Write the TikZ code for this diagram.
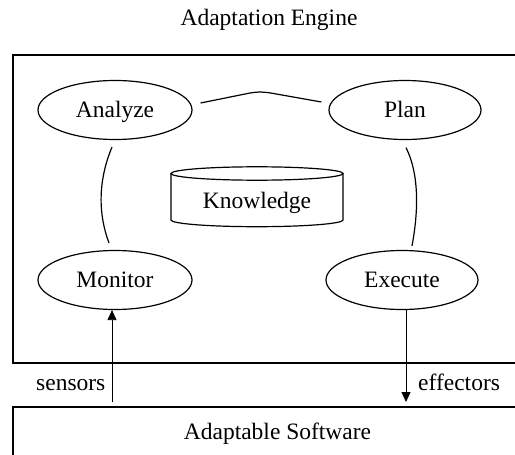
\documentclass[tikz,border=0pt]{standalone}
\usepackage{fontspec}
\setmainfont{Liberation Serif}
\usetikzlibrary{arrows.meta, shapes.geometric}
\begin{document}
\begin{tikzpicture}[x=1pt, y=-1pt,
  every node/.style={font=\fontsize{23.5}{28}\selectfont},
  stage/.style={ellipse, draw, line width=1.2pt, inner sep=0pt,
    minimum height=59pt, text height=14pt, text depth=0pt},
  link/.style={line width=1.2pt},
  probe/.style={line width=0.8pt, -{Triangle[length=10pt, width=9pt]}},
  frame/.style={line width=1.8pt}]
  \clip (0,0) rectangle (515,455);
  \fill[white] (0,0) rectangle (515,455);

  % title and the two layers
  \node[anchor=base] (title) at (269,25) {Adaptation Engine};
  \draw[frame] (530,55) -- (13,55) -- (13,363) -- (530,363);
  \draw[frame] (530,407) -- (13,407) -- (13,470);
  \node[anchor=base] (soft) at (277.5,439) {Adaptable Software};

  % MAPE-K loop
  \node[stage, minimum width=154pt] (an) at (115,110) {Analyze};
  \node[stage, minimum width=152pt] (pl) at (405,110) {Plan};
  \node[stage, minimum width=154pt] (mo) at (115,280) {Monitor};
  \node[stage, minimum width=152pt] (ex) at (402,280) {Execute};

  % knowledge store
  \node[anchor=base] (kn) at (257,208) {Knowledge};
  \draw[line width=1.2pt] (257,173.5) ellipse [x radius=86, y radius=6.7];
  \draw[line width=1.2pt] (171,173.5) -- (171,220)
    arc[start angle=180, end angle=0, x radius=86, y radius=6.7] -- (343,173.5);

  % links between the stages
  \draw[link, rounded corners=6pt] ([shift={(8,-7)}]an.east) -- (255,92)
    -- (265,92) -- ([shift={(-7,-8)}]pl.west);
  \draw[link] ([shift={(-3,7)}]an.south) .. controls +(-14,33.5) and +(-11,-29)
    .. ([shift={(-6,-7)}]mo.north);
  \draw[link] ([shift={(1,7.5)}]pl.south) .. controls +(14,28) and +(6,-32)
    .. ([shift={(10,-4)}]ex.north);

  % sensors and effectors
  \coordinate (sb) at (112,402);
  \coordinate (eb) at (406,402);
  \draw[probe] (sb) -- (sb |- mo.south);
  \draw[probe] (eb |- ex.south) -- (eb);
  \node[anchor=base west, inner sep=0pt] (sens) at (36,390) {sensors};
  \node[anchor=base west, inner sep=0pt] (eff) at (418,390) {effectors};
\end{tikzpicture}
\end{document}
